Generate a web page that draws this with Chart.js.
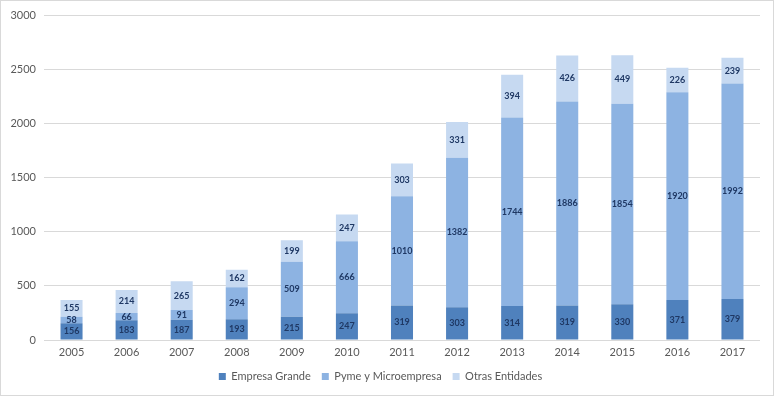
<!DOCTYPE html>
<html><head><meta charset="utf-8">
<script src="https://cdn.jsdelivr.net/npm/chart.js@4/dist/chart.umd.min.js"></script>
<style>
html,body{margin:0;padding:0;background:#fff;}
#wrap{width:774px;height:396px;box-sizing:border-box;border:1px solid #d9d9d9;position:relative;}
canvas{display:block;}
</style></head>
<body><div id="wrap"><canvas id="c" width="772" height="394"></canvas></div>
<script>
const years = ['2005','2006','2007','2008','2009','2010','2011','2012','2013','2014','2015','2016','2017'];
const empresaGrande = [156,183,187,193,215,247,319,303,314,319,330,371,379];
const pymeMicro = [58,66,91,294,509,666,1010,1382,1744,1886,1854,1920,1992];
const otrasEntidades = [155,214,265,162,199,247,303,331,394,426,449,226,239];
const yTicks = [0,500,1000,1500,2000,2500,3000];

const labelPlugin = {
  id: 'segLabels',
  afterDatasetsDraw(chart) {
    const ctx = chart.ctx;
    ctx.save();
    ctx.font = 'bold 9px Lato, "DejaVu Sans", sans-serif';
    ctx.fillStyle = '#1f3864';
    ctx.textAlign = 'center';
    ctx.textBaseline = 'middle';
    chart.data.datasets.forEach((ds, i) => {
      const meta = chart.getDatasetMeta(i);
      meta.data.forEach((el, j) => {
        const y = (el.y + el.base) / 2;
        ctx.fillText(String(ds.data[j]), el.x, y);
      });
    });
    ctx.restore();
  }
};

new Chart(document.getElementById('c'), {
  type: 'bar',
  data: {
    labels: years,
    datasets: [
      {label: 'Empresa Grande', data: empresaGrande, backgroundColor: '#4f81bd'},
      {label: 'Pyme y Microempresa', data: pymeMicro, backgroundColor: '#8db3e2'},
      {label: 'Otras Entidades', data: otrasEntidades, backgroundColor: '#c6d9f1'}
    ]
  },
  options: {
    responsive: false,
    animation: false,
    layout: {padding: {left: 0, right: 13, top: 8, bottom: 3}},
    datasets: {bar: {categoryPercentage: 0.8, barPercentage: 0.5}},
    plugins: {
      legend: {
        position: 'bottom',
        labels: {boxWidth: 7, boxHeight: 7, color: '#595959', padding: 11,
          font: {family: 'Lato, "DejaVu Sans", sans-serif', size: 11}}
      },
      tooltip: {enabled: false}
    },
    scales: {
      x: {
        stacked: true,
        grid: {display: false, drawTicks: false},
        border: {display: false},
        afterFit: (s) => { s.height = 20; },
        ticks: {color: '#595959', font: {family: 'Lato, "DejaVu Sans", sans-serif', size: 11}, padding: 6}
      },
      y: {
        stacked: true,
        min: 0, max: 3000,
        afterBuildTicks: (s) => { s.ticks = yTicks.map(v => ({value: v})); },
        afterFit: (s) => { s.width = 43; },
        grid: {color: '#d9d9d9', drawTicks: false},
        border: {display: false},
        ticks: {color: '#595959', padding: 8, callback: (v) => String(v),
          font: {family: 'Lato, "DejaVu Sans", sans-serif', size: 11}}
      }
    }
  },
  plugins: [labelPlugin]
});
</script></body></html>
